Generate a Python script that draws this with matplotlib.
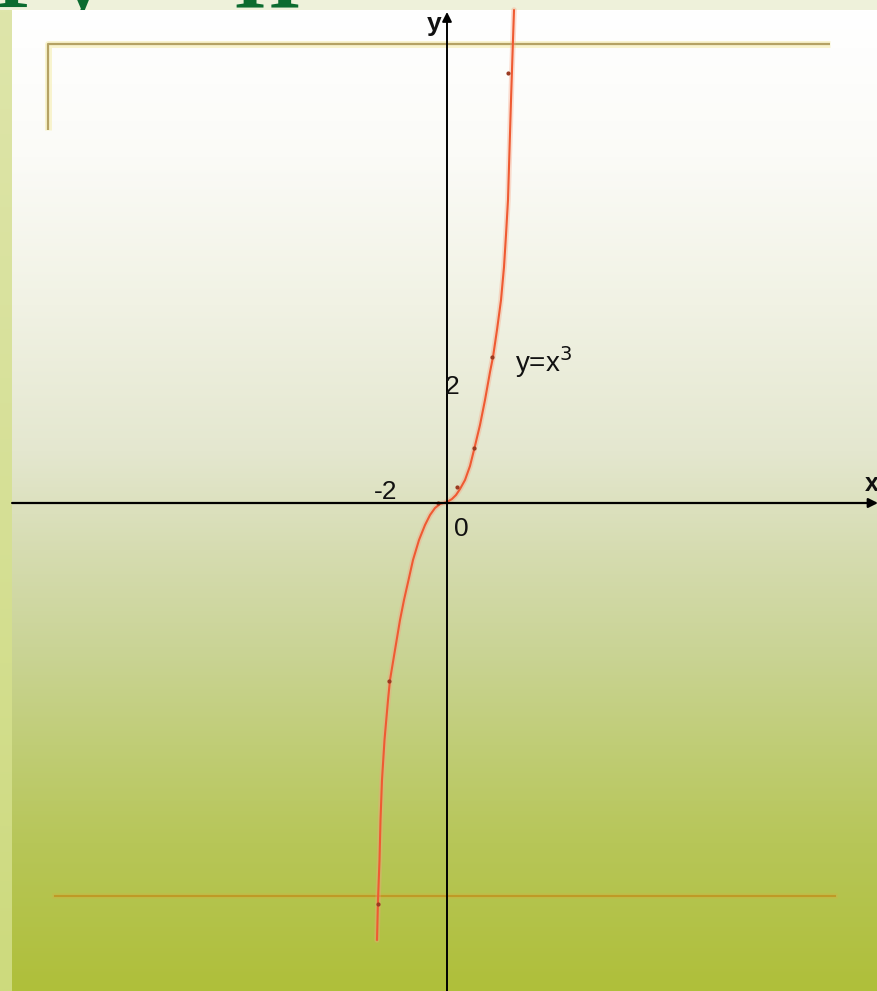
import numpy as np
import matplotlib
matplotlib.use("Agg")
import matplotlib.pyplot as plt
from matplotlib.patches import Rectangle

# ---- data (in chart units) ----
curve_x = [-2.456, -2.421, -2.368, -2.333, -2.281, -2.193, -2.070, -2.000, -1.825,
           -1.649, -1.509, -1.350, -1.193, -0.982, -0.772, -0.596, -0.421, -0.246,
           0.0, 0.175, 0.316, 0.456, 0.632, 0.807, 0.947, 1.158, 1.333, 1.509,
           1.614, 1.754, 1.895, 2.0, 2.070, 2.140, 2.193, 2.246, 2.298, 2.351]
curve_y = [-7.600, -6.904, -6.209, -5.513, -4.817, -4.122, -3.426, -3.078, -2.557,
           -2.035, -1.687, -1.339, -0.991, -0.643, -0.383, -0.209, -0.087, -0.017,
           0.017, 0.070, 0.139, 0.243, 0.400, 0.643, 0.922, 1.357, 1.791, 2.278,
           2.539, 3.009, 3.530, 4.104, 4.661, 5.270, 6.139, 7.009, 7.791, 8.574]
dots_x = [-2.42, -2.035, -0.30, 0.35, 0.947, 1.58, 2.14]
dots_y = [-6.97, -3.10, 0.0, 0.28, 0.957, 2.54, 7.48]

top_guide_x = [-14.0, -14.0, 13.44]
top_guide_y = [6.487, 7.983, 7.983]
bottom_guide_x = [-13.75, 13.61]
bottom_guide_y = [-6.835, -6.835]

tick_labels = ["-2", "2", "0"]
tick_pos = [(-2.14, 0.19), (0.175, 2.02), (0.49, -0.45)]
func_label = "y=x$^3$"

W, H = 878, 991
fig = plt.figure(figsize=(W / 100, H / 100), dpi=100)

# ---- background (pixel coordinates) ----
bg = fig.add_axes([0, 0, 1, 1])
bg.set_xlim(0, W)
bg.set_ylim(H, 0)
bg.axis("off")
bg.add_patch(Rectangle((0, 0), W, H, color=(238/255, 241/255, 218/255), zorder=0))

# title letters of the slide, cut off by the top edge as in the reference
title_font = ["Liberation Serif", "DejaVu Serif"]
for ch, xc in [("Т", 12), ("у", 82), ("П", 267)]:
    bg.text(xc, 7, ch, ha="center", va="baseline", fontsize=60, fontweight="bold",
            color="#0b6b2f", family=title_font, zorder=1)

stops = np.array([0.0, 0.15, 0.3, 0.45, 0.55, 0.65, 0.75, 0.85, 1.0])
cols = np.array([(255, 255, 255), (251, 251, 247), (241, 242, 228), (228, 231, 207),
                 (214, 220, 177), (202, 212, 150), (192, 205, 118), (183, 198, 88),
                 (175, 191, 58)]) / 255.0
t = np.linspace(0, 1, 600)
grad = np.stack([np.interp(t, stops, cols[:, k]) for k in range(3)], axis=-1)[:, None, :]
bg.imshow(grad, extent=(12, W, H, 10), aspect="auto", zorder=2, interpolation="bilinear")

lcols = np.array([(222, 229, 170), (214, 224, 150), (205, 218, 125)]) / 255.0
tl = np.linspace(0, 1, 300)
lgrad = np.stack([np.interp(tl, [0, 0.5, 1], lcols[:, k]) for k in range(3)], axis=-1)[:, None, :]
bg.imshow(lgrad, extent=(0, 12, H, 10), aspect="auto", zorder=2, interpolation="bilinear")

# ---- chart axes (chart units) ----
ax = fig.add_axes([0, 0, 1, 1])
ax.patch.set_alpha(0)
ax.set_xlim(-447 / 28.5, 431 / 28.5)
ax.set_ylim(-488 / 57.5, 503 / 57.5)
ax.axis("off")

# guide lines
ax.plot(top_guide_x, top_guide_y, color="#f6eeb0", lw=5, alpha=0.6, solid_capstyle="butt")
ax.plot(top_guide_x, top_guide_y, color="#b5a264", lw=1.6, solid_capstyle="butt")
ax.plot(bottom_guide_x, bottom_guide_y, color="#d8b040", lw=4, alpha=0.3)
ax.plot(bottom_guide_x, bottom_guide_y, color="#bf9a26", lw=1.5)

# coordinate axes with arrows
xl = ax.get_xlim()
yl = ax.get_ylim()
ax.annotate("", xy=(xl[1], 0), xytext=(-15.26, 0),
            arrowprops=dict(arrowstyle="-|>", lw=1.6, color="black", mutation_scale=14,
                            shrinkA=0, shrinkB=0))
ax.annotate("", xy=(0, 8.54), xytext=(0, yl[0]),
            arrowprops=dict(arrowstyle="-|>", lw=1.4, color="black", mutation_scale=14,
                            shrinkA=0, shrinkB=0))

# curve
ax.plot(curve_x, curve_y, color="#f7a080", lw=4, alpha=0.35, solid_capstyle="round",
        solid_joinstyle="round")
ax.plot(curve_x, curve_y, color="#ef5a32", lw=1.5, solid_capstyle="round",
        solid_joinstyle="round")
ax.plot(dots_x, dots_y, ls="none", marker="o", ms=2, color="#9a3a20")

lab_font = ["Liberation Sans Narrow", "Liberation Sans", "DejaVu Sans"]
for s, (px, py) in zip(tick_labels, tick_pos):
    ax.text(px, py, s, ha="center", va="center", fontsize=19, family=lab_font, color="#111111")
ax.text(2.386, 2.45, func_label, ha="left", va="center", fontsize=20, family=lab_font,
        color="#111111")
ax.text(-0.456, 8.33, "y", ha="center", va="center", fontsize=19, fontweight="bold",
        family=lab_font, color="#111111")
ax.text(14.91, 0.33, "x", ha="center", va="center", fontsize=18, fontweight="bold",
        family=lab_font, color="#111111")

fig.savefig("out.png", dpi=100)
